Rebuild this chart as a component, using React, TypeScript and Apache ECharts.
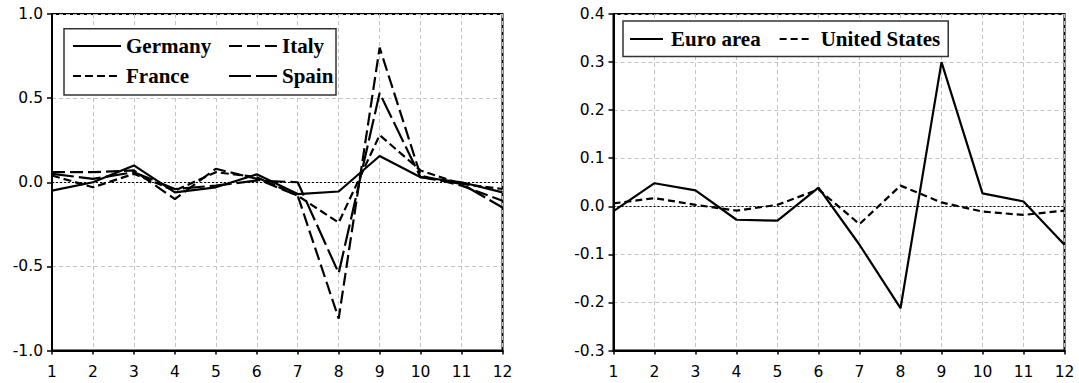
import React, { useEffect, useRef } from "react";
import * as echarts from "echarts";

const periods = [1, 2, 3, 4, 5, 6, 7, 8, 9, 10, 11, 12];

const germany = [-0.05, 0.0, 0.1, -0.06, -0.03, 0.047, -0.07, -0.055, 0.156, 0.03, 0.0, -0.06];
const italy = [0.06, 0.06, 0.07, -0.1, 0.08, 0.02, -0.08, -0.81, 0.8, 0.04, -0.02, -0.11];
const france = [0.04, -0.03, 0.05, -0.05, 0.06, 0.03, -0.08, -0.24, 0.28, 0.07, -0.01, -0.04];
const spain = [0.05, 0.02, 0.06, -0.04, -0.02, 0.01, 0.0, -0.54, 0.53, 0.03, -0.01, -0.15];

const euroArea = [-0.01, 0.048, 0.033, -0.028, -0.03, 0.039, -0.08, -0.212, 0.3, 0.027, 0.01, -0.08];
const unitedStates = [0.006, 0.017, 0.003, -0.009, 0.003, 0.035, -0.037, 0.043, 0.008, -0.011, -0.018, -0.009];

const leftTicks = { min: -1, max: 1, interval: 0.5 };
const rightTicks = { min: -0.3, max: 0.4, interval: 0.1 };

const toPairs = (vals: number[]) => periods.map((p, i) => [p, vals[i]]);

const labelFont = "DejaVu Sans";
const legendFont = "Liberation Serif";

function xAxis(gridIndex: number) {
  return {
    type: "value",
    gridIndex,
    min: 1,
    max: 12,
    interval: 1,
    axisLine: { show: true, onZero: false, lineStyle: { color: "#000", width: 2 } },
    axisTick: { show: true, length: 4, lineStyle: { color: "#000", width: 1.5 } },
    axisLabel: { color: "#000", fontFamily: labelFont, fontSize: 15.5, margin: 13 },
    splitLine: { show: true, lineStyle: { color: "#c4c4c4", type: [4, 3], width: 1 } },
  };
}

function yAxis(gridIndex: number, t: { min: number; max: number; interval: number }) {
  return {
    type: "value",
    gridIndex,
    min: t.min,
    max: t.max,
    interval: t.interval,
    axisLine: { show: true, onZero: false, lineStyle: { color: "#000", width: 2 } },
    axisTick: { show: true, length: 5, lineStyle: { color: "#000", width: 1.5 } },
    axisLabel: {
      color: "#000",
      fontFamily: labelFont,
      fontSize: 15.5,
      margin: 9,
      formatter: (v: number) => v.toFixed(1),
    },
    splitLine: { show: true, lineStyle: { color: "#c4c4c4", type: [4, 3], width: 1 } },
  };
}

const zeroLine = {
  silent: true,
  symbol: ["none", "none"],
  label: { show: false },
  lineStyle: { color: "#000", type: [2, 2], width: 1 },
  data: [{ yAxis: 0 }],
};

function line(name: string, vals: number[], idx: number, type: any, withZero = false) {
  const s: any = {
    name,
    type: "line",
    xAxisIndex: idx,
    yAxisIndex: idx,
    data: toPairs(vals),
    symbol: "none",
    lineStyle: { color: "#000", width: 2.2, type },
    itemStyle: { color: "#000" },
  };
  if (withZero) s.markLine = zeroLine;
  return s;
}

const legendText = {
  fontFamily: legendFont,
  fontWeight: "bold",
  fontSize: 21,
  color: "#000",
};

function columnLegend(left: number, top: number, names: string[]) {
  return {
    left,
    top,
    orient: "vertical",
    padding: 0,
    itemGap: 9,
    itemWidth: 48,
    itemHeight: 14,
    z: 5,
    itemStyle: { opacity: 0 },
    textStyle: legendText,
    data: names,
  };
}

export default function App() {
  const ref = useRef<HTMLDivElement>(null);
  useEffect(() => {
    if (!ref.current) return;
    const chart = echarts.init(ref.current, undefined, { renderer: "svg" });
    chart.setOption({
      animation: false,
      backgroundColor: "#fff",
      grid: [
        { left: 52, right: 576.5, top: 14, bottom: 32.5, show: true, borderColor: "#000", borderWidth: 2 },
        { left: 613.5, right: 14.5, top: 14, bottom: 32.5, show: true, borderColor: "#000", borderWidth: 2 },
      ],
      graphic: [
        {
          type: "rect",
          z: 4,
          shape: { x: 64, y: 28.7, width: 272, height: 66.3 },
          style: { fill: "#fff", stroke: "#333", lineWidth: 1.5 },
        },
      ],
      xAxis: [xAxis(0), xAxis(1)],
      yAxis: [yAxis(0, leftTicks), yAxis(1, rightTicks)],
      legend: [
        columnLegend(72, 35.5, ["Germany", "France"]),
        columnLegend(228, 35.5, ["Italy", "Spain"]),
        {
          left: 623,
          top: 21,
          orient: "horizontal",
          padding: [7.5, 8, 7, 6],
          itemGap: 18,
          itemWidth: 33,
          itemHeight: 14,
          backgroundColor: "#fff",
          borderColor: "#333",
          borderWidth: 1.5,
          borderRadius: 0,
          itemStyle: { opacity: 0 },
          textStyle: { ...legendText, padding: [0, 0, 0, 3] },
          data: ["Euro area", "United States"],
        },
      ],
      series: [
        line("Germany", germany, 0, "solid", true),
        line("Italy", italy, 0, [13, 5]),
        line("France", france, 0, [8, 4]),
        line("Spain", spain, 0, [22, 5]),
        line("Euro area", euroArea, 1, "solid", true),
        line("United States", unitedStates, 1, [7, 4]),
      ],
    });
    return () => chart.dispose();
  }, []);
  return (
    <div
      ref={ref}
      style={{ position: "fixed", left: 0, top: 0, width: 1079, height: 383, background: "#fff" }}
    />
  );
}
